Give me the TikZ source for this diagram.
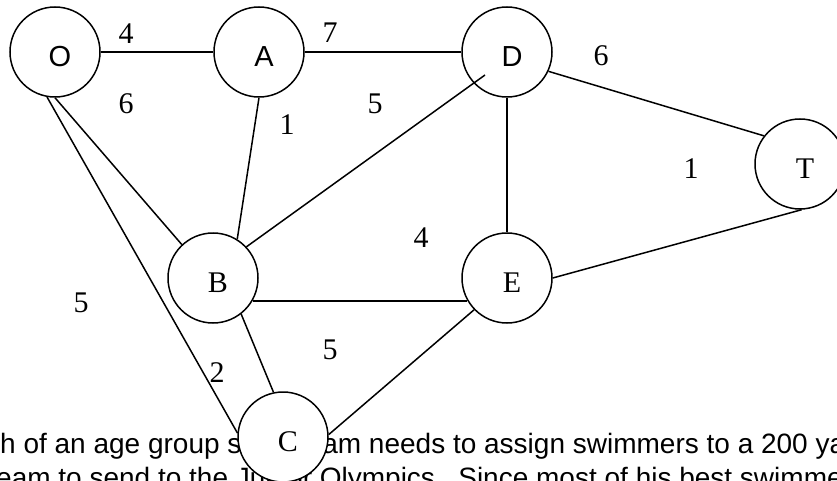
\documentclass[tikz,border=0pt]{standalone}
\usepackage{fontspec}
\setmainfont{Liberation Serif}
\setsansfont{Liberation Sans}
\begin{document}
\begin{tikzpicture}[x=1pt,y=-1pt,
  vertex/.style={circle, draw, line width=1.5pt, minimum size=90pt, inner sep=0pt},
  edge/.style={line width=1.5pt},
  sflab/.style={font=\sffamily\fontsize{29}{29}\selectfont},
  rmlab/.style={font=\rmfamily\fontsize{30}{30}\selectfont},
  w/.style={rmlab, inner sep=0pt},
  vlab/.style={inner sep=0pt, xshift=5pt, yshift=-5pt},
  body/.style={font=\sffamily\fontsize{28}{34}\selectfont, inner sep=0pt, anchor=base west}]
\useasboundingbox (0,0) rectangle (837,481);
\clip (0,0) rectangle (837,481);
% paragraph text behind the graph
\node[body] (t1) at (0,453) {h of an age group swim team needs to assign swimmers to a 200 yard};
\node[body] (t2) at (-4,487) {eam to send to the Junior Olympics.\ \ Since most of his best swimmers};
% vertices
\node[vertex, label={[vlab,sflab]center:O}] (O) at (55,52) {};
\node[vertex, label={[vlab,sflab]center:A}] (A) at (259,52) {};
\node[vertex, label={[vlab,sflab]center:D}] (D) at (507,52) {};
\node[vertex, label={[vlab,rmlab]center:T}] (T) at (800,164) {};
\node[vertex, label={[vlab,rmlab]center:B}] (B) at (213,278) {};
\node[vertex, label={[vlab,rmlab]center:E}] (E) at (507,278) {};
\node[vertex, fill=white, label={[vlab,rmlab]center:C}] (C) at (283,437) {};
% edges
\draw[edge] (O.0) -- (A.180);
\draw[edge] (A.0) -- (D.180);
\draw[edge] (O.-100) -- (C.175);
\draw[edge] (O.-90) -- (B.133);
\draw[edge] (A.-90) -- (B.58);
\draw[edge] ([shift={(-22,23)}]D.center) -- (B.43);
\draw[edge] (D.-90) -- (E.90);
\draw[edge] (D.-25) -- (T.142);
\draw[edge] (T.-88) -- (E.0);
\draw[edge] (B.-30) -- (E.-150);
\draw[edge] (B.-52) -- (C.102);
\draw[edge] (E.-136) -- (C.3);
% weights
\node[w] (w1) at (126,34) {4};
\node[w] (w2) at (330,33) {7};
\node[w] (w3) at (601,56) {6};
\node[w] (w4) at (126,104) {6};
\node[w] (w5) at (287,125) {1};
\node[w] (w6) at (375,104) {5};
\node[w] (w7) at (691,169) {1};
\node[w] (w8) at (421,238) {4};
\node[w] (w9) at (81,303) {5};
\node[w] (w10) at (330,350) {5};
\node[w] (w11) at (217,373) {2};
\end{tikzpicture}
\end{document}
